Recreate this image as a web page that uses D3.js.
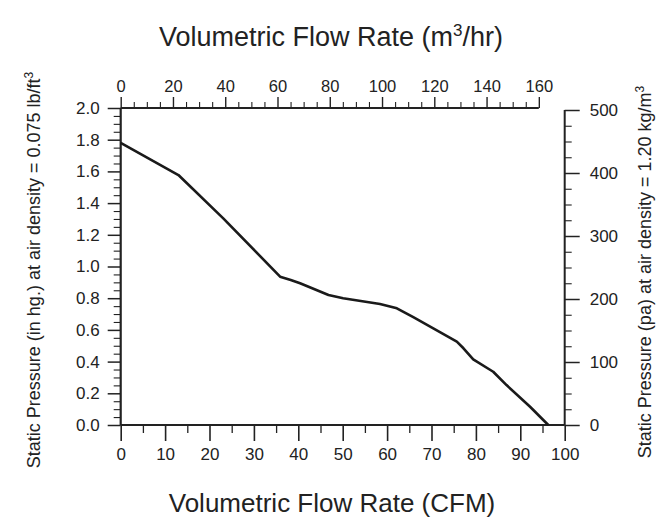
<!DOCTYPE html>
<html>
<head>
<meta charset="utf-8">
<script src="https://cdn.jsdelivr.net/npm/d3@7"></script>
<style>
  html, body { margin: 0; padding: 0; background: #fff; }
  svg text { font-family: "Liberation Sans", Arial, Helvetica, sans-serif; fill: #222; }
</style>
</head>
<body>
<svg id="chart" width="656" height="527"></svg>
<script>
// ---- data ----
const flowCFM    = [0, 13.0, 23.1, 35.9, 38.3, 40.4, 46.8, 50.1, 58.4, 62.2, 65.9, 70.4, 75.7, 77.2, 79.4, 83.9, 86.9, 92.2, 96.3];
const pressureIn = [1.78, 1.577, 1.304, 0.936, 0.915, 0.894, 0.82, 0.80, 0.763, 0.736, 0.68, 0.61, 0.526, 0.484, 0.414, 0.336, 0.252, 0.115, 0];

const bottomTicks = [0, 10, 20, 30, 40, 50, 60, 70, 80, 90, 100];
const topTicks    = [0, 20, 40, 60, 80, 100, 120, 140, 160];
const leftTicks   = [0, 0.2, 0.4, 0.6, 0.8, 1.0, 1.2, 1.4, 1.6, 1.8, 2.0];
const rightTicks  = [0, 100, 200, 300, 400, 500];

const CFM_TO_M3HR = 1.699;

const svg = d3.select("#chart");

// ---- scales ----
const x    = d3.scaleLinear().domain([0, 100]).range([120.7, 564.7]);
const xTop = d3.scaleLinear().domain([0, 100 * CFM_TO_M3HR]).range([120.7, 564.7]);
const yL   = d3.scaleLinear().domain([0, 2]).range([425, 108]);
const yR   = d3.scaleLinear().domain([0, 500]).range([425, 110]);

function styleAxis(g, w, fs) {
  g.select(".domain").remove();
  g.selectAll(".tick line").attr("stroke", "#222").attr("stroke-width", w);
  g.selectAll(".tick text").style("font-size", fs + "px").attr("fill", "#222");
}

const range = (a, b, s) => d3.range(a, b + s / 2, s);

// Bottom axis (CFM)
const gB = svg.append("g").attr("transform", `translate(0,${yL(0)})`);
gB.call(d3.axisBottom(x).tickValues(bottomTicks).tickSize(16).tickPadding(7).tickFormat(d3.format("d")));
styleAxis(gB, 1.6, 17);
const gBm = svg.append("g").attr("transform", `translate(0,${yL(0)})`);
gBm.call(d3.axisBottom(x).tickValues(range(5, 95, 10)).tickSize(8).tickFormat(""));
styleAxis(gBm, 1.3, 17);
svg.append("line").attr("x1", x(0)).attr("x2", x(100)).attr("y1", yL(0)).attr("y2", yL(0))
  .attr("stroke", "#222").attr("stroke-width", 2.2);

// Top axis (m3/hr)
const gT = svg.append("g").attr("transform", `translate(0,${yL(2)})`);
gT.call(d3.axisTop(xTop).tickValues(topTicks).tickSize(11).tickPadding(5).tickFormat(d3.format("d")));
styleAxis(gT, 1.4, 16.5);
const gTm = svg.append("g").attr("transform", `translate(0,${yL(2)})`);
gTm.call(d3.axisTop(xTop).tickValues(range(5, 155, 5).filter(v => v % 20 !== 0)).tickSize(6).tickFormat(""));
styleAxis(gTm, 1.1, 16.5);
svg.append("line").attr("x1", xTop(0)).attr("x2", xTop(160)).attr("y1", yL(2)).attr("y2", yL(2))
  .attr("stroke", "#222").attr("stroke-width", 2);

// Left axis (in.)
const gL = svg.append("g").attr("transform", `translate(${x(0)},0)`);
gL.call(d3.axisLeft(yL).tickValues(leftTicks).tickSize(13).tickPadding(8).tickFormat(d3.format(".1f")));
styleAxis(gL, 1.5, 17);
const gLm = svg.append("g").attr("transform", `translate(${x(0)},0)`);
gLm.call(d3.axisLeft(yL).tickValues(range(0.05, 1.95, 0.05).filter(v => Math.abs(v * 5 - Math.round(v * 5)) > 1e-6)).tickSize(7).tickFormat(""));
styleAxis(gLm, 1.1, 17);
svg.append("line").attr("x1", x(0)).attr("x2", x(0)).attr("y1", yL(2)).attr("y2", yL(0))
  .attr("stroke", "#222").attr("stroke-width", 2.2);

// Right axis (Pa)
const gR = svg.append("g").attr("transform", `translate(${x(100)},0)`);
gR.call(d3.axisRight(yR).tickValues(rightTicks).tickSize(15).tickPadding(10).tickFormat(d3.format("d")));
styleAxis(gR, 1.5, 17);
const gRm = svg.append("g").attr("transform", `translate(${x(100)},0)`);
gRm.call(d3.axisRight(yR).tickValues(range(25, 475, 25).filter(v => v % 100 !== 0)).tickSize(7).tickFormat(""));
styleAxis(gRm, 1.1, 17);
svg.append("line").attr("x1", x(100)).attr("x2", x(100)).attr("y1", yR(500)).attr("y2", yR(0))
  .attr("stroke", "#222").attr("stroke-width", 2);

// Curve
const pts = flowCFM.map((c, i) => [c, pressureIn[i]]);
svg.append("path")
  .datum(pts)
  .attr("fill", "none")
  .attr("stroke", "#1a1a1a")
  .attr("stroke-width", 2.6)
  .attr("stroke-linejoin", "round")
  .attr("d", d3.line().x(d => x(d[0])).y(d => yL(d[1])));

// Titles
const topTitle = svg.append("text").attr("x", 331).attr("y", 46).attr("text-anchor", "middle").style("font-size", "27px");
topTitle.append("tspan").text("Volumetric Flow Rate (m");
topTitle.append("tspan").attr("dy", -10).style("font-size", "17px").text("3");
topTitle.append("tspan").attr("dy", 10).text("/hr)");

svg.append("text").attr("x", 332).attr("y", 512).attr("text-anchor", "middle").style("font-size", "26px")
  .text("Volumetric Flow Rate (CFM)");

const leftTitle = svg.append("text").attr("transform", "translate(40,270) rotate(-90)")
  .attr("text-anchor", "middle").style("font-size", "18px");
leftTitle.append("tspan").text("Static Pressure (in hg.) at air density = 0.075 lb/ft");
leftTitle.append("tspan").attr("dy", -7).style("font-size", "12px").text("3");

const rightTitle = svg.append("text").attr("transform", "translate(651,272) rotate(-90)")
  .attr("text-anchor", "middle").style("font-size", "18px");
rightTitle.append("tspan").text("Static Pressure (pa) at air density = 1.20 kg/m");
rightTitle.append("tspan").attr("dy", -7).style("font-size", "12px").text("3");
</script>
</body>
</html>
